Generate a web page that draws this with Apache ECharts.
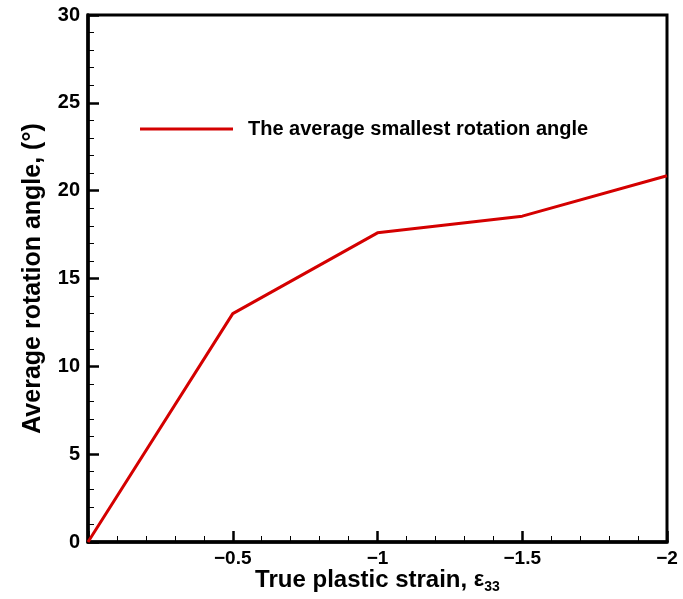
<!DOCTYPE html>
<html>
<head>
<meta charset="utf-8">
<script src="https://cdn.jsdelivr.net/npm/echarts@6/dist/echarts.min.js"></script>
<style>
html, body { margin: 0; padding: 0; background: #fff; }
#chart { width: 683px; height: 599px; }
</style>
</head>
<body>
<div id="chart"></div>
<script>
// data
const strain = [0, -0.5, -1, -1.5, -2]
const angle = [0, 13.0, 17.6, 18.55, 20.85]
const seriesName = 'The average smallest rotation angle'

const font = 'Liberation Sans, Arial, sans-serif'
const red = '#d40000'

const chart = echarts.init(document.getElementById('chart'))

const option = {
    animation: false,
    backgroundColor: '#fff',
    grid: {
        left: 88,
        right: 16,
        top: 15,
        bottom: 57,
        outerBoundsMode: 'none',
        show: true,
        borderColor: '#000',
        borderWidth: 3
    },
    legend: {
        left: 140,
        top: 119,
        padding: 0,
        icon: 'rect',
        itemWidth: 93,
        itemHeight: 3,
        textStyle: {
            fontFamily: font,
            fontWeight: 'bold',
            fontSize: 20,
            color: '#000',
            padding: [0, 0, 0, 10]
        },
        data: [seriesName]
    },
    xAxis: {
        type: 'value',
        inverse: true,
        min: -2,
        max: 0,
        interval: 0.5,
        name: 'True plastic strain, {e|ε}{sub|33}',
        nameLocation: 'middle',
        nameGap: 24,
        nameMoveOverlap: false,
        nameTextStyle: {
            fontFamily: font,
            fontWeight: 'bold',
            fontSize: 24,
            color: '#000',
            rich: {
                e: { fontFamily: font, fontSize: 22, color: '#000' },
                sub: { fontFamily: font, fontWeight: 'bold', fontSize: 14, color: '#000', padding: [14, 0, 0, 0] }
            }
        },
        axisLine: { lineStyle: { color: '#000', width: 3.5 } },
        axisTick: { inside: true, length: 11, lineStyle: { color: '#000', width: 2.5 } },
        minorTick: { show: true, splitNumber: 5, length: 6, lineStyle: { color: '#000', width: 1 } },
        splitLine: { show: false },
        axisLabel: {
            margin: 7,
            fontFamily: font,
            fontWeight: 'bold',
            fontSize: 19,
            color: '#000',
            formatter: v => v === 0 ? '' : String(v).replace('-', '\u2212')
        }
    },
    yAxis: {
        type: 'value',
        min: 0,
        max: 30,
        interval: 5,
        name: 'Average rotation angle, (°)',
        nameLocation: 'middle',
        nameGap: 42,
        nameMoveOverlap: false,
        nameTextStyle: {
            fontFamily: font,
            fontWeight: 'bold',
            fontSize: 25,
            color: '#000'
        },
        axisLine: { show: true, lineStyle: { color: '#000', width: 3.5 } },
        axisTick: { show: true, inside: true, length: 11, lineStyle: { color: '#000', width: 2.5 } },
        minorTick: { show: true, splitNumber: 5, length: 6, lineStyle: { color: '#000', width: 1 } },
        splitLine: { show: false },
        axisLabel: {
            margin: 8,
            fontFamily: font,
            fontWeight: 'bold',
            fontSize: 20,
            color: '#000'
        }
    },
    series: [
        {
            name: seriesName,
            type: 'line',
            data: strain.map((x, i) => [x, angle[i]]),
            showSymbol: false,
            symbol: 'none',
            itemStyle: { color: red },
            lineStyle: { color: red, width: 3 }
        }
    ]
}

chart.setOption(option)
</script>
</body>
</html>
